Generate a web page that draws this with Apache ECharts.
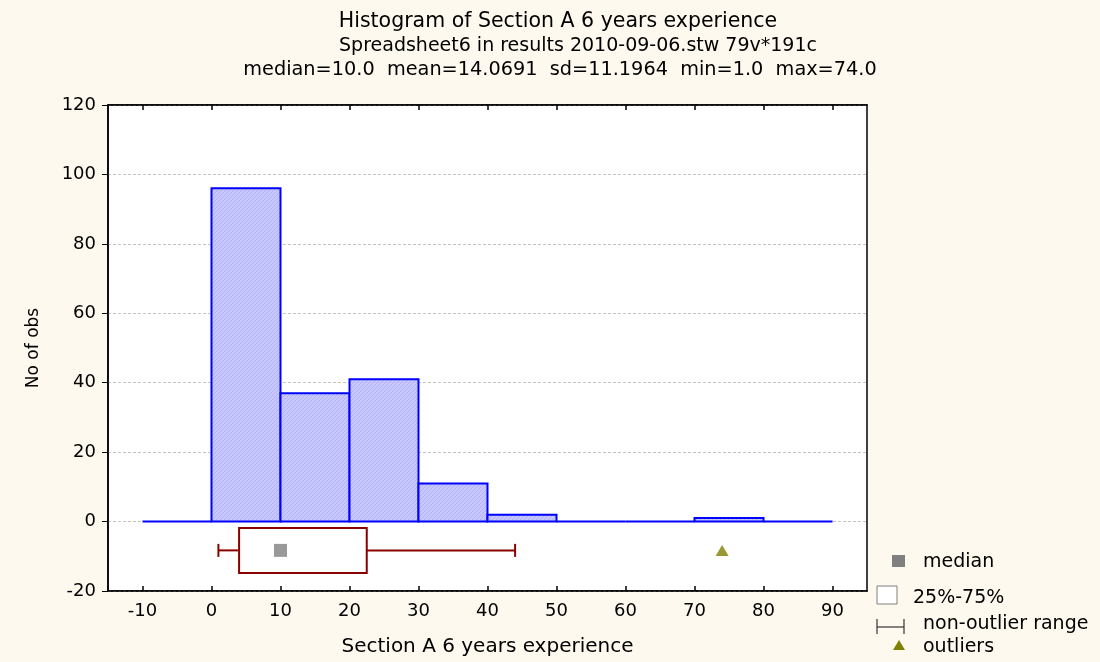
<!DOCTYPE html>
<html>
<head>
<meta charset="utf-8">
<script src="https://cdn.jsdelivr.net/npm/echarts@6/dist/echarts.min.js"></script>
<style>
html,body{margin:0;padding:0;background:#fdf9ef;}
#chart{width:1100px;height:662px;}
</style>
</head>
<body>
<div id="chart"></div>
<script>
// ---- data ----
var binStarts = [-10, 0, 10, 20, 30, 40, 50, 60, 70, 80];
var binEnds   = [0, 10, 20, 30, 40, 50, 60, 70, 80, 90];
var counts    = [0, 96, 37, 41, 11, 2, 0, 0, 1, 0];
var xTicks = [-10, 0, 10, 20, 30, 40, 50, 60, 70, 80, 90];
var yTicks = [-20, 0, 20, 40, 60, 80, 100, 120];
var boxStats = { whiskerLow: 1, q1: 4, median: 10, q3: 22.5, whiskerHigh: 44 };
var outliers = [74];
var titleLines = [
  'Histogram of Section A 6 years experience',
  'Spreadsheet6 in results 2010-09-06.stw 79v*191c',
  'median=10.0  mean=14.0691  sd=11.1964  min=1.0  max=74.0'
];
var legendItems = ['median', '25%-75%', 'non-outlier range', 'outliers'];

// ---- layout constants ----
var BOX_Y = -8.3;       // vertical level of box plot (axis units)
var BOX_HALF = 22.5;    // px
var CAP_HALF = 6.5;     // px
var FONT = 'DejaVu Sans';

// hatch pattern for histogram bars
var hatch = document.createElement('canvas');
hatch.width = 4; hatch.height = 4;
(function () {
  var c = hatch.getContext('2d');
  c.fillStyle = '#c8c8ff';
  c.fillRect(0, 0, 4, 4);
  c.fillStyle = '#b0b0f6';
  for (var i = 0; i < 4; i++) { c.fillRect(i, 3 - i, 1, 1); }
})();

var histData = binStarts.map(function (s, i) { return [s, binEnds[i], counts[i]]; });

var chart = echarts.init(document.getElementById('chart'), null, {renderer: 'canvas'});

var option = {
  backgroundColor: '#fdf9ef',
  animation: false,
  textStyle: { fontFamily: FONT, color: '#000' },
  grid: {
    left: 108, right: 233, top: 105, bottom: 70,
    show: true, backgroundColor: '#ffffff', borderColor: '#000', borderWidth: 1.5
  },
  xAxis: [{
    type: 'value', min: -15, max: 95, position: 'bottom',
    name: 'Section A 6 years experience', nameLocation: 'middle', nameGap: 46,
    nameTextStyle: { fontFamily: FONT, fontSize: 20, color: '#000' },
    axisLine: { show: true, onZero: false, lineStyle: { color: '#000', width: 1.5 } },
    axisTick: { show: true, inside: true, length: 5, customValues: xTicks, lineStyle: { color: '#000', width: 1.5 } },
    axisLabel: { customValues: xTicks, fontFamily: FONT, fontSize: 18, color: '#000', margin: 11 },
    splitLine: { show: false }
  }, {
    type: 'value', min: -15, max: 95, position: 'top',
    axisLine: { show: true, onZero: false, lineStyle: { color: '#000', width: 1.5 } },
    axisTick: { show: true, inside: true, length: 5, customValues: xTicks, lineStyle: { color: '#000', width: 1.5 } },
    axisLabel: { show: false },
    splitLine: { show: false }
  }],
  yAxis: [{
    type: 'value', min: -20, max: 120, interval: 20,
    name: 'No of obs', nameLocation: 'middle', nameGap: 66, nameRotate: 90,
    nameTextStyle: { fontFamily: FONT, fontSize: 17, color: '#000' },
    axisLine: { show: true, onZero: false, lineStyle: { color: '#000', width: 1.5 } },
    axisTick: { show: true, inside: false, length: 6, lineStyle: { color: '#000', width: 1 } },
    axisLabel: { fontFamily: FONT, fontSize: 18, color: '#000', margin: 12 },
    splitLine: { show: true, lineStyle: { color: '#c4c4c4', type: [3, 2], width: 1 } }
  }],
  series: [{
    type: 'custom',
    name: 'histogram',
    xAxisIndex: 0, yAxisIndex: 0,
    data: histData,
    encode: { x: [0, 1], y: 2 },
    renderItem: function (params, api) {
      var p0 = api.coord([api.value(0), 0]);
      var p1 = api.coord([api.value(1), api.value(2)]);
      return {
        type: 'rect',
        shape: { x: p0[0], y: p1[1], width: p1[0] - p0[0], height: p0[1] - p1[1] },
        style: { fill: { image: hatch, repeat: 'repeat' }, stroke: '#0000ff', lineWidth: 2 }
      };
    }
  }, {
    type: 'custom',
    name: 'box',
    xAxisIndex: 0, yAxisIndex: 0,
    data: [[boxStats.whiskerLow, boxStats.q1, boxStats.median, boxStats.q3, boxStats.whiskerHigh]],
    encode: { x: [0, 1, 2, 3, 4] },
    renderItem: function (params, api) {
      var lo = api.coord([api.value(0), BOX_Y]);
      var q1 = api.coord([api.value(1), BOX_Y]);
      var q3 = api.coord([api.value(3), BOX_Y]);
      var hi = api.coord([api.value(4), BOX_Y]);
      var y = lo[1];
      var ls = { stroke: '#8b0000', lineWidth: 2 };
      return {
        type: 'group',
        children: [
          { type: 'line', shape: { x1: lo[0], y1: y, x2: q1[0], y2: y }, style: ls },
          { type: 'line', shape: { x1: q3[0], y1: y, x2: hi[0], y2: y }, style: ls },
          { type: 'line', shape: { x1: lo[0], y1: y - CAP_HALF, x2: lo[0], y2: y + CAP_HALF }, style: ls },
          { type: 'line', shape: { x1: hi[0], y1: y - CAP_HALF, x2: hi[0], y2: y + CAP_HALF }, style: ls },
          { type: 'rect', shape: { x: q1[0], y: y - BOX_HALF, width: q3[0] - q1[0], height: 2 * BOX_HALF },
            style: { fill: '#ffffff', stroke: '#8b0000', lineWidth: 2 } }
        ]
      };
    },
    z: 3
  }, {
    type: 'scatter',
    name: 'median',
    data: [[boxStats.median, BOX_Y]],
    symbol: 'rect', symbolSize: 13,
    itemStyle: { color: '#808080' },
    z: 5
  }, {
    type: 'scatter',
    name: 'outliers',
    data: outliers.map(function (v) { return [v, BOX_Y]; }),
    symbol: 'triangle', symbolSize: [13, 11],
    itemStyle: { color: '#808000' },
    z: 5
  }],
  graphic: [
    { type: 'text', x: 558, y: 22, style: { text: titleLines[0], font: '20.5px "DejaVu Sans"', fill: '#000', align: 'center', verticalAlign: 'middle' } },
    { type: 'text', x: 578, y: 46, style: { text: titleLines[1], font: '19px "DejaVu Sans"', fill: '#000', align: 'center', verticalAlign: 'middle' } },
    { type: 'text', x: 560, y: 70, style: { text: titleLines[2], font: '19.3px "DejaVu Sans"', fill: '#000', align: 'center', verticalAlign: 'middle' } },
    // legend: median
    { type: 'rect', shape: { x: 892, y: 555, width: 13, height: 12 }, style: { fill: '#808080' } },
    { type: 'text', x: 923, y: 562, style: { text: legendItems[0], font: '19px "DejaVu Sans"', fill: '#000', verticalAlign: 'middle' } },
    // legend: box
    { type: 'rect', shape: { x: 877, y: 586, width: 20, height: 18 }, style: { fill: '#fff', stroke: '#808080', lineWidth: 1 } },
    { type: 'text', x: 913, y: 598, style: { text: legendItems[1], font: '19px "DejaVu Sans"', fill: '#000', verticalAlign: 'middle' } },
    // legend: range
    { type: 'line', shape: { x1: 877, y1: 619, x2: 877, y2: 634 }, style: { stroke: '#333', lineWidth: 1.2 } },
    { type: 'line', shape: { x1: 904, y1: 619, x2: 904, y2: 634 }, style: { stroke: '#333', lineWidth: 1.2 } },
    { type: 'line', shape: { x1: 877, y1: 627, x2: 904, y2: 627 }, style: { stroke: '#333', lineWidth: 1.2 } },
    { type: 'text', x: 923, y: 624, style: { text: legendItems[2], font: '19px "DejaVu Sans"', fill: '#000', verticalAlign: 'middle' } },
    // legend: outliers
    { type: 'polygon', shape: { points: [[899, 640], [893, 650], [905, 650]] }, style: { fill: '#808000' } },
    { type: 'text', x: 923, y: 647, style: { text: legendItems[3], font: '19px "DejaVu Sans"', fill: '#000', verticalAlign: 'middle' } }
  ]
};
chart.setOption(option);
</script>
</body>
</html>
